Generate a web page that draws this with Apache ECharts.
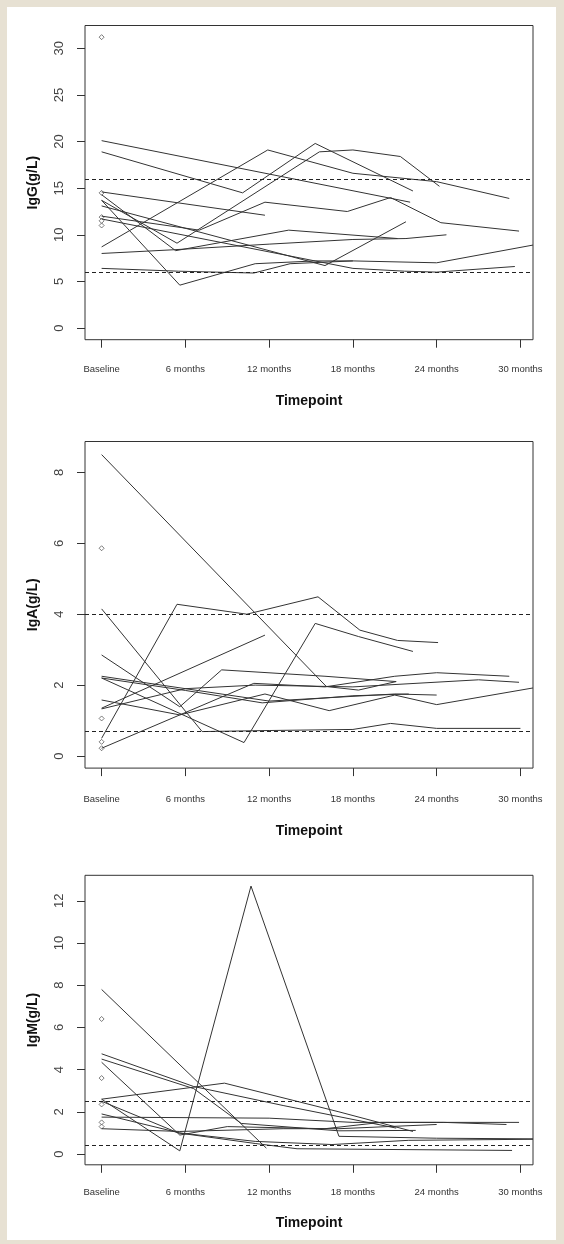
<!DOCTYPE html>
<html>
<head>
<meta charset="utf-8">
<script src="https://cdn.jsdelivr.net/npm/echarts@6/dist/echarts.min.js"></script>
<style>
  html, body { margin: 0; padding: 0; background: #e7e1d3; }
  #frame { position: absolute; left: 7px; top: 7px; width: 549px; height: 1233px; background: #ffffff; }
  #chart { position: absolute; left: 0; top: 0; width: 564px; height: 1244px; }
</style>
</head>
<body>
<div id="frame"></div>
<div id="chart"></div>
<script>
// ---- data ----
const tickMonths = [0, 6, 12, 18, 24, 30];
const tickLabels = ['Baseline', '6 months', '12 months', '18 months', '24 months', '30 months'];

// IgG (g/L): each patient trajectory as [month, value]
const iggLines = [
  [[0,20.1],[22.1,13.5]],
  [[0,18.9],[10.1,14.5],[15.3,19.8],[22.3,14.7]],
  [[0,8.7],[11.9,19.1],[18,16.6],[24,15.7],[29.2,13.9]],
  [[0,13.7],[5.4,9.1],[15.6,18.9],[18,19.1],[21.4,18.4],[24.2,15.2]],
  [[0,14.6],[11.7,12.1]],
  [[0,12.0],[7.0,10.5],[11.7,13.5],[17.6,12.5],[20.7,14.0],[24.3,11.3],[29.9,10.4]],
  [[0,14.3],[5.3,8.3],[13.4,10.5],[21.2,9.6]],
  [[0,13.7],[5.6,4.6],[11.0,6.9],[15.3,7.2],[18,7.2],[24,7.0],[30.9,8.9]],
  [[0,13.1],[16.0,6.7],[21.8,11.4]],
  [[0,8.0],[5.2,8.4],[12,9.0],[18,9.5],[21.8,9.6],[24.7,10.0]],
  [[0,11.7],[18,6.4],[21.7,6.1],[24,6.0],[29.6,6.6]],
  [[0,6.4],[5.5,6.1],[10.9,5.9],[13.5,6.9],[18,7.2]]
];
const iggOutliers = [31.2, 14.5, 11.9, 11.5, 11.0];
const iggRefs = [6, 16];

// IgA (g/L)
const igaLines = [
  [[0,8.5],[16.1,1.96],[18.4,1.86],[21.1,2.1]],
  [[0,0.5],[5.4,4.28],[10.4,4.0],[15.5,4.49],[18.5,3.55],[21.2,3.26],[24.1,3.2]],
  [[0,4.15],[7.2,0.69],[12,0.72],[18,0.75],[20.7,0.92],[24,0.78],[30,0.78]],
  [[0,2.85],[5.6,1.39],[8.6,2.43],[16,2.25],[21.1,2.1]],
  [[0,1.35],[11.7,3.41]],
  [[0,2.2],[10.2,0.38],[15.3,3.74],[18.4,3.37],[22.3,2.95]],
  [[0,0.22],[5.6,1.16],[10.9,2.05],[16,1.95],[21,2.25],[24,2.35],[29.2,2.25]],
  [[0,2.2],[6,1.85],[11.5,1.5],[18,1.7],[22,1.75]],
  [[0,1.58],[5.6,1.16],[11.7,1.75],[16.3,1.28],[21,1.72],[24,1.45],[30.9,1.92]],
  [[0,2.25],[12,1.55],[21,1.75],[24,1.72]],
  [[0,1.33],[6,1.9],[11,2.0],[18,1.95],[27,2.15],[29.9,2.08]]
];
const igaOutliers = [5.86, 1.06, 0.40, 0.22];
const igaRefs = [0.7, 4.0];

// IgM (g/L)
const igmLines = [
  [[0,2.6],[5.6,0.15],[10.7,12.7],[17,0.84],[24,0.75],[30.9,0.72]],
  [[0,7.8],[11.8,0.28]],
  [[0,4.75],[6.6,3.2],[13,2.3],[21.1,1.23]],
  [[0,4.5],[6.6,3.1],[10,1.45],[17,1.1],[22.5,1.12]],
  [[0,4.35],[5.6,0.9],[9,1.3],[16,1.2],[20,1.5],[24,1.5],[29.9,1.5]],
  [[0,2.6],[8.8,3.36],[17,2.0],[22.3,1.07]],
  [[0,2.5],[5.5,1.0],[11,0.5],[14,0.25],[29.4,0.17]],
  [[0,1.9],[5.6,1.0],[11,0.6],[16.5,0.45],[22,0.65],[30.9,0.7]],
  [[0,1.75],[12,1.7],[18,1.5],[24.5,1.5],[29,1.4]],
  [[0,1.2],[5.6,1.07],[13,1.2],[17,1.2],[24,1.4]]
];
const igmOutliers = [6.4, 3.6, 2.35, 1.5, 1.3];
const igmRefs = [0.4, 2.5];

const panels = [
  { name: 'IgG(g/L)', lines: iggLines, outliers: iggOutliers, refs: iggRefs,
    yTicks: [0,5,10,15,20,25,30], yMin: -1.25, yMax: 32.45, top: 25.5, height: 314.2,
    labelMargin: 25, nameGap: 54 },
  { name: 'IgA(g/L)', lines: igaLines, outliers: igaOutliers, refs: igaRefs,
    yTicks: [0,2,4,6,8], yMin: -0.34, yMax: 8.87, top: 441.5, height: 326.6,
    labelMargin: 26.5, nameGap: 56 },
  { name: 'IgM(g/L)', lines: igmLines, outliers: igmOutliers, refs: igmRefs,
    yTicks: [0,2,4,6,8,10,12], yMin: -0.51, yMax: 13.21, top: 875.3, height: 289.5,
    labelMargin: 23, nameGap: 51 }
];

// ---- chart ----
const chart = echarts.init(document.getElementById('chart'), null, { renderer: 'canvas' });
const LINE = '#333333';
const grids = [], xAxes = [], yAxes = [], series = [];

panels.forEach((p, i) => {
  grids.push({ left: 85, width: 448, top: p.top, height: p.height, show: true,
    borderColor: '#333', borderWidth: 1, backgroundColor: 'transparent' });
  xAxes.push({
    type: 'value', gridIndex: i, min: -1.19, max: 30.9,
    name: 'Timepoint', nameLocation: 'middle', nameGap: p.nameGap,
    nameTextStyle: { fontFamily: 'Liberation Sans', fontWeight: 'bold', fontSize: 14, color: '#111' },
    axisLine: { show: false, onZero: false }, splitLine: { show: false },
    axisTick: { show: true, customValues: tickMonths, length: 8, lineStyle: { color: '#333' } },
    axisLabel: { customValues: tickMonths, margin: p.labelMargin, fontSize: 9.5, color: '#333',
      fontFamily: 'Liberation Sans',
      formatter: v => tickLabels[tickMonths.indexOf(v)] }
  });
  yAxes.push({
    type: 'value', gridIndex: i, min: p.yMin, max: p.yMax,
    name: p.name, nameLocation: 'middle', nameGap: 45, nameRotate: 90,
    nameTextStyle: { fontFamily: 'Liberation Sans', fontWeight: 'bold', fontSize: 14, color: '#111' },
    axisLine: { show: false, onZero: false }, splitLine: { show: false },
    axisTick: { show: true, customValues: p.yTicks, length: 8, lineStyle: { color: '#333' } },
    axisLabel: { customValues: p.yTicks, rotate: 90, margin: 19, fontSize: 13, color: '#444',
      fontFamily: 'Liberation Sans' }
  });
  p.lines.forEach(d => {
    series.push({ type: 'line', xAxisIndex: i, yAxisIndex: i, data: d, symbol: 'none',
      lineStyle: { color: LINE, width: 1 }, silent: true, animation: false });
  });
  series.push({ type: 'scatter', xAxisIndex: i, yAxisIndex: i,
    data: p.outliers.map(v => [0, v]), symbol: 'diamond', symbolSize: 5,
    itemStyle: { color: '#fff', borderColor: '#333', borderWidth: 0.8 }, silent: true, animation: false });
  series.push({ type: 'line', xAxisIndex: i, yAxisIndex: i, data: [], silent: true, animation: false,
    markLine: { silent: true, symbol: 'none', label: { show: false },
      lineStyle: { color: '#222', type: [4, 3], width: 1 },
      data: p.refs.map(r => ({ yAxis: r })) } });
});

chart.setOption({ animation: false, grid: grids, xAxis: xAxes, yAxis: yAxes, series: series });
</script>
</body>
</html>
